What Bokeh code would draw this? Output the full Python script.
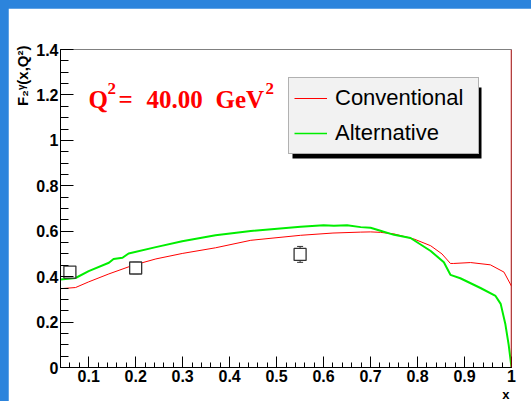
import re
import numpy as np
from bokeh.plotting import figure
from bokeh.models import (Range1d, FixedTicker, Label, Legend, LegendItem, Span,
                          BoxAnnotation, Whisker, ColumnDataSource, TeeHead, Title)
from bokeh.embed import file_html
from bokeh.resources import INLINE

# ---------------- data ----------------
conv_x = [0.040, 0.072, 0.100, 0.143, 0.193, 0.243, 0.299, 0.370, 0.445, 0.551,
          0.620, 0.679, 0.700, 0.721, 0.750, 0.792, 0.828, 0.852, 0.870, 0.877,
          0.913, 0.955, 0.984, 1.000]
conv_y = [0.347, 0.352, 0.377, 0.412, 0.449, 0.478, 0.502, 0.527, 0.560, 0.582,
          0.592, 0.596, 0.597, 0.595, 0.588, 0.566, 0.536, 0.500, 0.458, 0.458,
          0.462, 0.452, 0.420, 0.358]

alt_x = [0.040, 0.072, 0.100, 0.143, 0.153, 0.172, 0.185, 0.243, 0.299, 0.370,
         0.445, 0.551, 0.600, 0.622, 0.650, 0.679, 0.700, 0.721, 0.750, 0.785,
         0.828, 0.856, 0.870, 0.891, 0.934, 0.966, 0.977, 0.987, 0.994, 1.000]
alt_y = [0.387, 0.394, 0.424, 0.461, 0.478, 0.483, 0.502, 0.530, 0.556, 0.582,
         0.601, 0.620, 0.626, 0.624, 0.626, 0.618, 0.615, 0.602, 0.584, 0.570,
         0.513, 0.463, 0.408, 0.393, 0.350, 0.315, 0.280, 0.190, 0.100, 0.000]

data_x = [0.06, 0.20, 0.55]
data_y = [0.420, 0.438, 0.498]
data_err = [0.020, 0.025, 0.035]

x_ticks = [0.1, 0.2, 0.3, 0.4, 0.5, 0.6, 0.7, 0.8, 0.9, 1.0]
x_tick_labels = ["0.1", "0.2", "0.3", "0.4", "0.5", "0.6", "0.7", "0.8", "0.9", "1"]
y_ticks = [0.0, 0.2, 0.4, 0.6, 0.8, 1.0, 1.2, 1.4]
y_tick_labels = ["0", "0.2", "0.4", "0.6", "0.8", "1", "1.2", "1.4"]

series_names = ["Conventional", "Alternative"]
q2_value = "40.00"

# ---------------- figure ----------------
p = figure(frame_width=451, frame_height=318, x_range=Range1d(0.04, 1.0), y_range=Range1d(0.0, 1.4),
           output_backend="svg", toolbar_location=None,
           min_border_left=52, min_border_right=20, min_border_top=41, min_border_bottom=20)
p.grid.visible = False
p.background_fill_color = "white"
p.border_fill_color = "white"
p.outline_line_color = "#808080"
p.outline_line_width = 1

x_minor = [round(v, 2) for v in np.arange(0.04, 1.0001, 0.02)]
y_minor = [round(v, 2) for v in np.arange(0.0, 1.4001, 0.05)]
p.xaxis.ticker = FixedTicker(ticks=x_ticks, minor_ticks=x_minor)
p.yaxis.ticker = FixedTicker(ticks=y_ticks, minor_ticks=y_minor)
p.xaxis.major_label_overrides = {t: l for t, l in zip(x_ticks, x_tick_labels)}
p.yaxis.major_label_overrides = {t: l for t, l in zip(y_ticks, y_tick_labels)}

for ax in (p.xaxis[0], p.yaxis[0]):
    ax.axis_line_color = "black"
    ax.major_tick_line_color = "black"
    ax.minor_tick_line_color = "black"
    ax.major_tick_out = 0
    ax.minor_tick_out = 0
    ax.major_label_text_font = "Liberation Sans"
    ax.major_label_text_font_style = "bold"
    ax.major_label_text_color = "black"
    ax.major_label_text_font_size = "16px"
p.yaxis.major_tick_in = 13
p.yaxis.minor_tick_in = 8
p.yaxis.major_label_standoff = 2
p.xaxis.major_tick_in = 11
p.xaxis.minor_tick_in = 5
p.xaxis.major_label_standoff = 2

# axis titles as side titles
p.add_layout(Title(text="F₂ᵞ(x,Q²)", align="right", text_font="Liberation Sans",
                   text_font_style="bold", text_font_size="15px", text_color="black",
                   standoff=5, offset=-4), "left")
p.add_layout(Title(text="x", align="right", text_font="Liberation Sans",
                   text_font_style="bold", text_font_size="13px", text_color="black",
                   standoff=0, offset=2), "below")

# curves
r_conv = p.line(conv_x, conv_y, line_color="#ff0000", line_width=1)
r_alt = p.line(alt_x, alt_y, line_color="#00ee00", line_width=2)
# legend swatches (thin lines, nothing drawn in the plot)
nan = float("nan")
leg_conv = p.line(x=[nan], y=[nan], line_color="#ff0000", line_width=1)
leg_alt = p.line(x=[nan], y=[nan], line_color="#00ee00", line_width=1.3)

p.add_layout(Span(location=1.0, dimension="height", line_color="#e00000", line_width=1.5))

# data points
src = ColumnDataSource(dict(x=data_x, y=data_y,
                            lo=[y - e for y, e in zip(data_y, data_err)],
                            hi=[y + e for y, e in zip(data_y, data_err)]))
p.add_layout(Whisker(source=src, base="x", lower="lo", upper="hi", line_color="#333333",
                     upper_head=TeeHead(size=6, line_color="#333333"),
                     lower_head=TeeHead(size=6, line_color="#333333")))
p.scatter("x", "y", source=src, marker="square", size=12, fill_color="white",
          line_color="#333333", line_width=1.3)

# legend shadow + legend
p.add_layout(BoxAnnotation(left=232, right=421, bottom=209, top=280,
                           left_units="screen", right_units="screen",
                           bottom_units="screen", top_units="screen",
                           fill_color="black", fill_alpha=1.0, line_color=None))
legend = Legend(items=[LegendItem(label=series_names[0], renderers=[leg_conv]),
                       LegendItem(label=series_names[1], renderers=[leg_alt])],
                location=(228, 213), orientation="vertical",
                background_fill_color="#f2f2f2", background_fill_alpha=1.0,
                border_line_color="#707070", border_line_width=1,
                label_text_font="Liberation Sans", label_text_font_size="22px",
                label_text_color="black",
                glyph_width=33, glyph_height=30, label_height=30, label_width=138,
                padding=5, spacing=5, label_standoff=8, margin=0)
p.add_layout(legend)

# Q^2 text
red = "#ff0000"
serif = "Liberation Serif"
def red_text(x, y, s, size):
    p.add_layout(Label(x=x, y=y, x_units="screen", y_units="screen", text=s,
                       text_font=serif, text_font_style="bold", text_font_size=size,
                       text_color=red, text_baseline="alphabetic"))
red_text(28, 268, "Q", "25px")
red_text(47, 279, "2", "17px")
red_text(58, 268, "=", "25px")
red_text(86, 268, q2_value, "25px")
red_text(155, 268, "GeV", "25px")
red_text(205, 279, "2", "17px")

html = file_html(p, INLINE)
style = ("<style>html,body{margin:0 !important;overflow:hidden !important;"
         "background:#2c84dc !important;}"
         "body{padding:8px 0 0 8px !important;box-sizing:border-box !important;}</style>")
html = re.sub(r"</head>", style + "</head>", html, count=1)
open("out.html", "w").write(html)
